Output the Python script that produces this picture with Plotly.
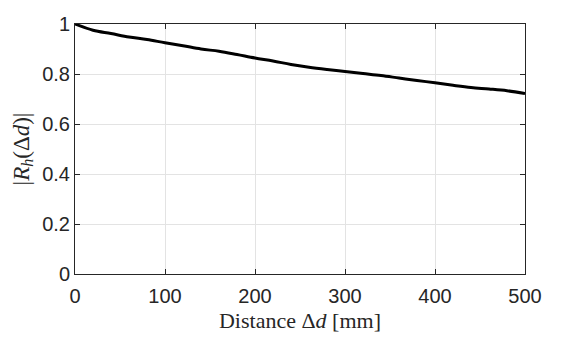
import plotly.graph_objects as go

distance_mm = [0, 20, 40, 60, 80, 100, 120, 140, 160, 180, 200, 220, 240, 260, 280,
               300, 320, 340, 360, 380, 400, 420, 440, 460, 480, 500]
rh_abs = [1.000, 0.975, 0.962, 0.948, 0.938, 0.925, 0.913, 0.900, 0.891, 0.878,
          0.864, 0.852, 0.838, 0.827, 0.818, 0.810, 0.802, 0.794, 0.784, 0.774,
          0.765, 0.755, 0.746, 0.740, 0.733, 0.722]
x_ticks = [0, 100, 200, 300, 400, 500]
y_ticks = [0, 0.2, 0.4, 0.6, 0.8, 1]
y_tick_labels = ["0", "0.2", "0.4", "0.6", "0.8", "1"]

fig = go.Figure()
fig.add_trace(go.Scatter(x=distance_mm, y=rh_abs, mode="lines", line_shape="spline",
                         line=dict(color="black", width=3), showlegend=False))

axis_common = dict(showline=True, linecolor="#262626", linewidth=1, mirror="allticks",
                   ticks="inside", ticklen=5, tickcolor="#262626", automargin=False,
                   showgrid=True, gridcolor="#e3e3e3", gridwidth=1, zeroline=False,
                   tickfont=dict(family="Liberation Sans, Arial", size=20, color="#262626"))

fig.update_xaxes(range=[0, 500], tickvals=x_ticks, ticktext=[str(v) for v in x_ticks],
                 ticklabelstandoff=4,
                 title=dict(text="Distance Δ<i>d</i> [mm]", standoff=6,
                            font=dict(family="Liberation Serif, DejaVu Serif", size=22, color="#262626")),
                 **axis_common)
fig.update_yaxes(range=[0, 1], tickvals=y_ticks, ticktext=y_tick_labels,
                 title=dict(text="|<i>R</i><sub><i>h</i></sub>(Δ<i>d</i>)|", standoff=6,
                            font=dict(family="Liberation Serif, DejaVu Serif", size=23, color="#262626")),
                 **axis_common)

# the page body adds an 8px offset, so the figure is sized/margined to compensate
fig.update_layout(width=573, height=329, margin=dict(l=67, r=56, t=16, b=63),
                  plot_bgcolor="white", paper_bgcolor="white")
fig.write_html("out.html")
